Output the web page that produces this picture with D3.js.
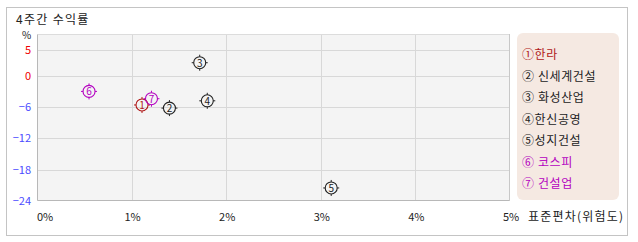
<!DOCTYPE html>
<html>
<head>
<meta charset="utf-8">
<script src="https://cdn.jsdelivr.net/npm/d3@7"></script>
<style>
  body { margin: 0; background: #fff; }
  text { font-family: "Noto Sans CJK KR", "DejaVu Sans", sans-serif; }
</style>
</head>
<body>
<svg id="chart" width="638" height="242"></svg>
<script>
// data
var names = ["한라", "신세계건설", "화성산업", "한신공영", "성지건설", "코스피", "건설업"];
var marks = ["①", "② ", "③ ", "④", "⑤", "⑥ ", "⑦ "];
var risk = [1.11, 1.40, 1.72, 1.80, 3.11, 0.55, 1.21];    // x, %
var returns = [-5.6, -6.2, 2.5, -4.8, -21.5, -3.0, -4.4];  // y, %
var colors = ["#b01818", "#222", "#222", "#222", "#222", "#b400c0", "#b400c0"];
var xTicks = [0, 1, 2, 3, 4, 5];
var yTicks = [5, 0, -6, -12, -18, -24];

var svg = d3.select("#chart");
var margin = {top: 34, left: 37, right: 128, bottom: 41},
    width = +svg.attr("width") - margin.left - margin.right,
    height = +svg.attr("height") - margin.top - margin.bottom;

// outer frame
svg.append("rect")
    .attr("x", 6.5).attr("y", 7.5)
    .attr("width", 621).attr("height", 228)
    .attr("fill", "#fff").attr("stroke", "#c4c4c4");

svg.append("text")
    .attr("x", 16).attr("y", 24)
    .attr("font-size", 12).attr("fill", "#222")
    .attr("letter-spacing", 1.3)
    .text("4주간 수익률");

var x = d3.scaleLinear().domain([0, 5]).range([0, width]),
    y = d3.scaleLinear().domain([-24, 8]).range([height, 0]);

var g = svg.append("g")
    .attr("transform", "translate(" + margin.left + "," + margin.top + ")");

g.append("rect")
    .attr("width", width).attr("height", height)
    .attr("fill", "#f4f4f4");

// grid
g.selectAll(".gx")
    .data(xTicks.slice(1, -1))
    .enter().append("line")
    .attr("x1", function(d) { return Math.round(x(d)) + 0.5; })
    .attr("x2", function(d) { return Math.round(x(d)) + 0.5; })
    .attr("y1", 0).attr("y2", height)
    .attr("stroke", "#d8d8d8");

g.selectAll(".gy")
    .data(yTicks.slice(0, -1))
    .enter().append("line")
    .attr("y1", function(d) { return Math.round(y(d)) + 0.5; })
    .attr("y2", function(d) { return Math.round(y(d)) + 0.5; })
    .attr("x1", 0).attr("x2", width)
    .attr("stroke", "#d8d8d8");

// plot frame
g.append("path")
    .attr("d", "M0.5,0.5H" + (width - 0.5) + "V" + (height - 0.5))
    .attr("fill", "none").attr("stroke", "#dcdcdc");
g.append("path")
    .attr("d", "M0.5,0.5V" + (height - 0.5) + "H" + (width - 0.5))
    .attr("fill", "none").attr("stroke", "#b8b8b8");
g.append("line")
    .attr("x1", width - 0.5).attr("x2", width - 0.5)
    .attr("y1", 0).attr("y2", height)
    .attr("stroke", "#c8c8c8");

// y axis labels
g.selectAll(".ylab")
    .data(yTicks)
    .enter().append("text")
    .attr("x", -6)
    .attr("y", function(d) { return y(d) + 4; })
    .attr("text-anchor", "end")
    .attr("font-size", 11)
    .attr("fill", function(d) { return d >= 0 ? "#f00000" : "#4a4aff"; })
    .text(function(d) { return d < 0 ? "\u2212" + (-d) : d; });

g.append("text")
    .attr("x", -15).attr("y", 5)
    .attr("font-size", 10).attr("fill", "#222")
    .text("%");

// x axis labels
g.selectAll(".xlab")
    .data(xTicks)
    .enter().append("text")
    .attr("x", function(d) { return d === 0 ? x(d) : x(d) + 1; })
    .attr("y", height + 20)
    .attr("text-anchor", function(d) { return d === 0 ? "start" : "middle"; })
    .attr("font-size", 11)
    .attr("fill", "#222")
    .text(function(d) { return d + "%"; });

svg.append("text")
    .attr("x", 528).attr("y", 221)
    .attr("font-size", 12).attr("fill", "#222")
    .attr("letter-spacing", 1.2)
    .text("표준편차(위험도)");

// points
var pts = g.selectAll(".pt")
    .data(names)
    .enter().append("g")
    .attr("transform", function(d, i) {
        return "translate(" + x(risk[i]) + "," + y(returns[i]) + ")";
    });

pts.append("circle")
    .attr("r", 6)
    .attr("fill", "none")
    .attr("stroke", function(d, i) { return colors[i]; })
    .attr("stroke-width", 1.1);

pts.append("path")
    .attr("d", "M0,-6V-8M0,6V8M-6,0H-8M6,0H8")
    .attr("stroke", function(d, i) { return colors[i]; })
    .attr("stroke-width", 1);

pts.append("text")
    .attr("y", 4)
    .attr("text-anchor", "middle")
    .attr("font-size", 10)
    .attr("fill", function(d, i) { return colors[i]; })
    .text(function(d, i) { return i + 1; });

// legend
var lg = svg.append("g").attr("transform", "translate(517,33)");
lg.append("rect")
    .attr("width", 102).attr("height", 167)
    .attr("rx", 6)
    .attr("fill", "#f5e9e2");

lg.selectAll(".item")
    .data(names)
    .enter().append("text")
    .attr("x", 5)
    .attr("y", function(d, i) { return 26 + i * 21.5; })
    .attr("font-size", 12)
    .attr("letter-spacing", 0.6)
    .attr("fill", function(d, i) { return colors[i]; })
    .text(function(d, i) { return marks[i] + d; });
</script>
</body>
</html>
